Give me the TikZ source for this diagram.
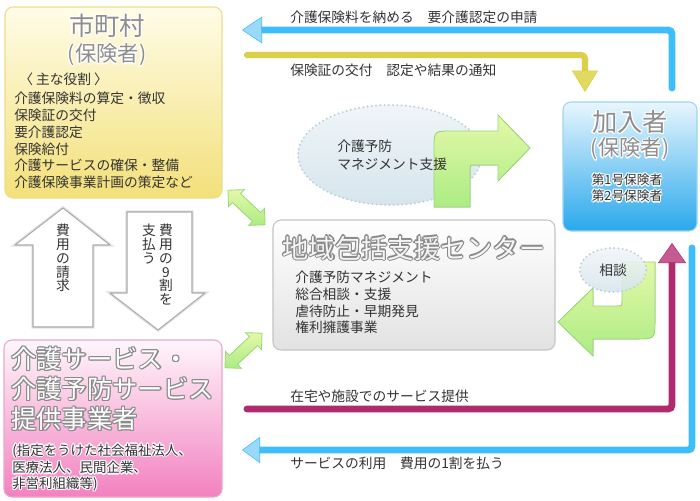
\documentclass[tikz,border=0pt]{standalone}
\usepackage{fontspec}
\setmainfont{Noto Sans CJK JP}
\usetikzlibrary{shapes.geometric, shapes.arrows, arrows.meta, positioning}

\definecolor{textgray}{HTML}{333333}
\definecolor{titlegray}{HTML}{8E8E8E}
\definecolor{halogray}{HTML}{8A8A8A}
\definecolor{yellowtop}{HTML}{FFFCE8}
\definecolor{yellowbottom}{HTML}{F3E07A}
\definecolor{yellowedge}{HTML}{EEDD8C}
\definecolor{bluetop}{HTML}{E8F6FD}
\definecolor{bluebottom}{HTML}{2AA8EC}
\definecolor{blueedge}{HTML}{9ED4F0}
\definecolor{pinktop}{HTML}{FFF6FB}
\definecolor{pinkbottom}{HTML}{F281C0}
\definecolor{pinkedge}{HTML}{E8A8CE}
\definecolor{graytop}{HTML}{FFFFFF}
\definecolor{graybottom}{HTML}{E2E2E2}
\definecolor{grayedge}{HTML}{C4C4C4}
\definecolor{greentop}{HTML}{E4F8A8}
\definecolor{greenbottom}{HTML}{ACEC84}
\definecolor{greenedge}{HTML}{98D874}
\definecolor{cloudtop}{HTML}{F0F5F8}
\definecolor{cloudbottom}{HTML}{D6E5ED}
\definecolor{cloudedge}{HTML}{BDD0DA}
\definecolor{lineblue}{HTML}{3DBEFA}
\definecolor{headblue}{HTML}{9AD9FA}
\definecolor{lineyellow}{HTML}{DCD04A}
\definecolor{headyellow}{HTML}{E2D862}
\definecolor{linemagenta}{HTML}{AF2B6E}
\definecolor{headmagenta}{HTML}{C85A92}

% glow round a text: halo colour, text colour, text
\newcommand\haloshift[4]{\rlap{\kern#1\raisebox{#2}{\color{#3}#4}}}
\newcommand\halo[3]{\leavevmode
  \haloshift{-0.9pt}{0pt}{#1}{#3}\haloshift{0.9pt}{0pt}{#1}{#3}%
  \haloshift{0pt}{0.9pt}{#1}{#3}\haloshift{0pt}{-0.9pt}{#1}{#3}%
  \haloshift{-0.65pt}{0.65pt}{#1}{#3}\haloshift{0.65pt}{0.65pt}{#1}{#3}%
  \haloshift{-0.65pt}{-0.65pt}{#1}{#3}\haloshift{0.65pt}{-0.65pt}{#1}{#3}%
  {\color{#2}#3}}

\tikzstyle{flowtext} = [text=textgray, inner sep=0pt, anchor=west, font=\fontsize{10.3}{12.6}\selectfont]
\tikzstyle{boxtitle} = [inner sep=0pt, font=\fontsize{19}{22.5}\selectfont]
\tikzstyle{flowline} = [line width=5.2pt, line cap=round, rounded corners=3pt]
\tikzset{
  roundbox/.style={
    rectangle,
    rounded corners=6pt,
    line width=0.8pt},
  dotcloud/.style={
    ellipse,
    draw=cloudedge,
    top color=cloudtop,
    bottom color=cloudbottom,
    line width=1.6pt,
    line cap=round,
    dash pattern=on 0pt off 3.2pt},
  greenshape/.style={
    draw=greenedge,
    line width=0.6pt,
    top color=greentop,
    bottom color=greenbottom},
  linkarrow/.style={
    double arrow,
    greenshape,
    minimum height=38pt,
    inner sep=4.2pt,
    double arrow head extend=4.2pt},
  hollowarrow/.style={
    draw=gray!65,
    fill=white,
    line width=0.8pt,
    line join=round,
    preaction={draw=gray!22, line width=2.6pt}},
  vertical/.style={
    flowtext,
    anchor=north,
    align=center,
    font=\fontsize{10.3}{10.3}\selectfont}
}

\begin{document}
\begin{tikzpicture}[x=0.75pt, y=-0.75pt]
  \fill[white] (0,0) rectangle (700,500);
  \useasboundingbox (0,0) rectangle (700,500);

  % main boxes
  \node (shichoson) [roundbox, draw=yellowedge, top color=yellowtop, bottom color=yellowbottom,
    minimum width=162.75pt, minimum height=143.25pt] at (113.5,102.5) {};
  \node (kanyu) [roundbox, draw=blueedge, top color=bluetop, bottom color=bluebottom,
    minimum width=100.5pt, minimum height=96.75pt] at (630,166.5) {};
  \node (houkatsu) [roundbox, draw=grayedge, top color=graytop, bottom color=graybottom,
    minimum width=211.5pt, minimum height=97.5pt] at (414,285) {};
  \node (jigyosha) [roundbox, draw=pinkedge, top color=pinktop, bottom color=pinkbottom,
    minimum width=163.5pt, minimum height=117.75pt] at (113,418.5) {};

  % texts of the boxes
  \node (shichoson_title) [boxtitle] at (107,26) {\halo{white}{titlegray}{市町村}};
  \node (shichoson_sub) [boxtitle, font=\fontsize{16}{16}\selectfont] at (107,55) {\halo{white}{titlegray}{(保険者)}};
  \node (roles_head) [flowtext] at (19,79) {〈 主な役割 〉};
  \node (roles) [flowtext, align=left] at (14,140.5) {介護保険料の算定・徴収\\保険証の交付\\要介護認定\\保険給付\\介護サービスの確保・整備\\介護保険事業計画の策定など};

  \node (kanyu_title) [boxtitle] at (630,122) {\halo{white}{titlegray}{加入者}};
  \node (kanyu_sub) [boxtitle, font=\fontsize{16}{16}\selectfont] at (630,149) {\halo{white}{titlegray}{(保険者)}};
  \node (kanyu_list) [flowtext, anchor=center, align=center, font=\fontsize{9.5}{12}\selectfont] at (627,188)
    {\halo{white}{textgray}{第1号保険者}\\\halo{white}{textgray}{第2号保険者}};

  \node (houkatsu_title) [boxtitle, font=\fontsize{19.7}{19.7}\selectfont] at (414,248) {\halo{halogray}{white!92!gray}{地域包括支援センター}};
  \node (houkatsu_list) [flowtext, align=left, font=\fontsize{10.3}{12.45}\selectfont] at (295,302.5)
    {介護予防マネジメント\\総合相談・支援\\虐待防止・早期発見\\権利擁護事業};

  \node (jigyosha_title) [boxtitle, anchor=west, align=left] at (11,389)
    {\halo{halogray}{white}{介護サービス・}\\\halo{halogray}{white}{介護予防サービス}\\\halo{halogray}{white}{提供事業者}};
  \node (jigyosha_note) [flowtext, align=left, font=\fontsize{10.1}{11.8}\selectfont] at (12,467.5)
    {\halo{white}{textgray}{(指定をうけた社会福祉法人、}\\\halo{white}{textgray}{医療法人、民間企業、}\\\halo{white}{textgray}{非営利組織等)}};

  % care prevention support
  \node (yobou) [dotcloud, minimum width=138pt, minimum height=75pt] at (390,155) {};
  \filldraw [greenshape] (434,207) -- (434,149) .. controls (434,131) .. (452,131) -- (498,131)
    -- (498,115) -- (530,148) -- (498,181) -- (498,165) -- (475,165) .. controls (470,165) .. (470,170)
    -- (470,207) -- cycle;
  \node (yobou_text) [flowtext, align=left, font=\fontsize{10.3}{13.5}\selectfont] at (337,155) {介護予防\\マネジメント支援};

  % consultation
  \filldraw [greenshape] (655,262) -- (655,320) .. controls (655,339) .. (636,339) -- (593,339)
    -- (593,356) -- (558,322) -- (593,288) -- (593,306) -- (617,306) .. controls (622,306) .. (622,301)
    -- (622,262) -- cycle;
  \node (soudan) [dotcloud, fill opacity=0.85, text opacity=1, text=textgray, minimum width=50pt, minimum height=33pt,
    font=\fontsize{10.3}{12}\selectfont] at (613,270) {相談};

  % links to the support center
  \node (link_upper) [linkarrow, rotate=-43] at (246.5,207.5) {};
  \node (link_lower) [linkarrow, rotate=43] at (243.5,350.5) {};

  % cost arrows
  \draw [hollowarrow] (33,327) -- (33,245) -- (15,245) -- (63,208) -- (110,245) -- (93,245) -- (93,327) -- cycle;
  \draw [hollowarrow] (127,212) -- (192,212) -- (192,293) -- (205,293) -- (158,330) -- (110,293) -- (127,293) -- cycle;
  \node (claim) [vertical] at (63,224) {費\\用\\の\\請\\求};
  \node (pay_right) [vertical] at (166,224) {費\\用\\の\\9\\割\\を};
  \node (pay_left) [vertical] at (149,224) {支\\払\\う};

  % flow lines
  \coordinate (premium_start) at (672,88);
  \coordinate (premium_end) at (242,30);
  \coordinate (notice_start) at (247,55);
  \coordinate (notice_end) at (585,92);
  \coordinate (service_start) at (247,409);
  \coordinate (service_end) at (672,243);
  \coordinate (usage_start) at (692,248);
  \coordinate (usage_end) at (242,450);

  \draw [flowline, draw=lineblue, -{Triangle[length=15pt, width=20pt, line width=0.4pt, fill=headblue]}]
    (premium_start) |- (premium_end);
  \draw [flowline, draw=lineyellow, line width=4.6pt, -{Triangle[length=16pt, width=19.5pt, line width=0.4pt, fill=headyellow]}]
    (notice_start) -| (notice_end);
  \draw [flowline, draw=linemagenta, -{Triangle[length=15pt, width=21pt, line width=0.4pt, fill=headmagenta]}]
    (service_start) -| (service_end);
  \draw [flowline, draw=lineblue, -{Triangle[length=13.5pt, width=19.5pt, line width=0.4pt, fill=headblue]}]
    (usage_start) |- (usage_end);

  \node (premium_text) [flowtext] at (290,17.5) {介護保険料を納める　要介護認定の申請};
  \node (notice_text) [flowtext] at (290,70) {保険証の交付　認定や結果の通知};
  \node (service_text) [flowtext] at (290,396.5) {在宅や施設でのサービス提供};
  \node (usage_text) [flowtext] at (290,463) {サービスの利用　費用の1割を払う};
\end{tikzpicture}
\end{document}
